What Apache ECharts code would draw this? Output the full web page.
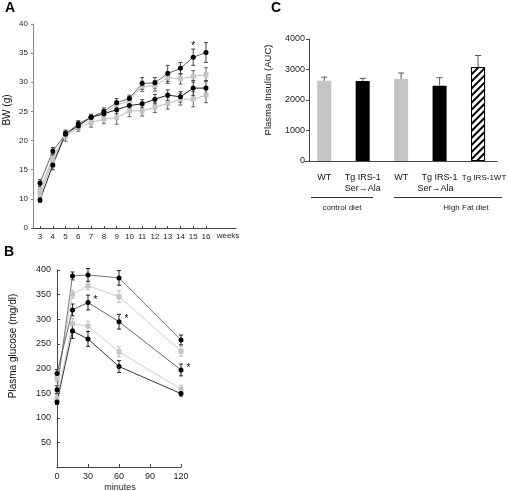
<!DOCTYPE html>
<html><head><meta charset="utf-8">
<script src="https://cdn.jsdelivr.net/npm/echarts@6/dist/echarts.min.js"></script>
<style>html,body{margin:0;padding:0;background:#fff}#c{width:509px;height:491px}</style>
</head><body><div id="c"></div>
<script>
// Panel A: body weight
const weeks = [3,4,5,6,7,8,9,10,11,12,13,14,15,16];
const bwTickWeeks = [3,4,5,6,7,8,9,10,11,12,13,14,15,16];
const bwBlackHigh = [12.7,18.2,21.1,22.9,24.0,25.0,26.5,27.2,29.8,29.9,31.5,32.4,34.3,35.1];
const bwBlackHighErr = [0.6,0.6,0.5,0.5,0.4,0.6,0.7,0.6,1.0,0.9,1.4,1.0,1.4,1.7];
const bwGrayHigh = [11.5,17.0,21.0,22.7,24.0,24.6,26.1,26.8,29.3,29.4,30.8,30.6,31.0,31.3];
const bwGrayHighErr = [0.8,0.8,0.6,0.5,0.5,0.7,0.7,0.7,0.9,0.9,1.0,0.9,1.0,1.2];
const bwBlackLow = [9.8,15.8,21.2,22.5,24.0,24.6,25.3,26.0,26.3,27.1,27.8,27.5,29.0,29.0];
const bwBlackLowErr = [0.4,0.8,0.6,0.6,0.5,0.6,0.7,0.6,0.7,0.8,0.9,0.9,1.3,1.3];
const bwGrayLow = [10.7,16.5,20.7,22.3,23.1,23.7,23.9,25.1,25.1,25.7,26.4,27.1,27.1,27.8];
const bwGrayLowErr = [0.9,1.0,0.8,0.7,0.8,0.8,1.1,1.0,0.9,0.9,1.0,1.0,1.3,1.3];
const bwSignifWeek = 15;

// Panel B: glucose tolerance
const minutes = [0,15,30,60,120];
const gluBlackTop = [157,388,390,384,258];
const gluBlackTopErr = [8,8,13,15,10];
const gluGrayTop = [180,351,368,346,235];
const gluGrayTopErr = [8,8,8,12,10];
const gluBlackMid = [190,319,334,295,197];
const gluBlackMidErr = [8,12,15,15,12];
const gluGrayLow = [139,291,286,234,158];
const gluGrayLowErr = [8,10,10,10,8];
const gluBlackLow = [132,276,260,204,149];
const gluBlackLowErr = [5,15,15,12,5];
const gluSignifMinutes = [30,60,120];

// Panel C: insulin AUC
const insulinGroups = ['WT','Tg IRS-1\nSer\u2192Ala','WT','Tg IRS-1\nSer\u2192Ala','Tg IRS-1WT'];
const insulinMean = [2630,2620,2690,2470,3080];
const insulinErr = [120,90,195,260,380];
const insulinStyle = ['gray','black','gray','black','hatch'];
const dietGroups = ['control diet','High Fat diet'];

const FONT = 'Liberation Sans, Arial, sans-serif';

function errSeries(xi, xs, ys, es, color, capW, upOnly) {
  return {
    type:'custom', xAxisIndex:xi, yAxisIndex:xi, silent:true, z:3,
    encode:{x:0, y:[1,2]},
    data: xs.map((x,i)=>[x, ys[i]-(upOnly?0:es[i]), ys[i]+es[i]]),
    renderItem:(params, api)=>{
      const lo = api.coord([api.value(0), api.value(1)]);
      const hi = api.coord([api.value(0), api.value(2)]);
      const w = capW/2;
      const st = {stroke:color, lineWidth:1};
      const ch = [
        {type:'line', shape:{x1:lo[0],y1:lo[1],x2:hi[0],y2:hi[1]}, style:st},
        {type:'line', shape:{x1:hi[0]-w,y1:hi[1],x2:hi[0]+w,y2:hi[1]}, style:st}
      ];
      if (!upOnly) ch.push({type:'line', shape:{x1:lo[0]-w,y1:lo[1],x2:lo[0]+w,y2:lo[1]}, style:st});
      return {type:'group', children:ch};
    }
  };
}

function lineSeries(xi, xs, ys, symbol, mColor, lColor, signif, sigPos) {
  return {
    type:'line', xAxisIndex:xi, yAxisIndex:xi, z:4,
    symbol: symbol, symbolSize: 5,
    itemStyle:{color:mColor},
    lineStyle:{color:lColor, width:1},
    data: xs.map((x,i)=>{
      const d = {value:[x, ys[i]]};
      if (signif && signif.indexOf(x)>=0) {
        d.label = {show:true, formatter:'*', fontSize:10, fontFamily:FONT, color:'#000',
          position: sigPos.position, distance: sigPos.distance, offset: sigPos.offset};
      }
      return d;
    }),
    animation:false
  };
}

const gray = '#c4c4c4';
const axisCol = '#444';
const labelStyle = {fontSize:8, color:'#222', fontFamily:FONT};

const option = {
  animation:false,
  backgroundColor:'#fff',
  grid:[
    {left:33, top:24, width:203, height:204},
    {left:57, top:270, width:124, height:197},
    {left:305, top:39, width:195, height:122}
  ],
  xAxis:[
    {gridIndex:0, type:'value', min:2.45, max:18.35,
      axisLine:{lineStyle:{color:axisCol}}, splitLine:{show:false},
      axisTick:{inside:true, length:2, lineStyle:{color:axisCol}, customValues:bwTickWeeks},
      axisLabel:Object.assign({customValues:bwTickWeeks, margin:5}, labelStyle)},
    {gridIndex:1, type:'value', min:0, max:120, interval:30,
      axisLine:{lineStyle:{color:axisCol}}, splitLine:{show:false},
      axisTick:{inside:true, length:3, lineStyle:{color:axisCol}},
      axisLabel:Object.assign({margin:5}, labelStyle, {fontSize:9})},
    {gridIndex:2, type:'category', data:insulinGroups,
      axisLine:{lineStyle:{color:axisCol}}, axisTick:{show:false},
      axisLabel:{fontSize:9, color:'#111', fontFamily:FONT, margin:11, lineHeight:11, interval:0,
        formatter:(v, idx)=>{
          if (idx===3) { const p = v.split('\n'); return '{t|'+p[0]+'}\n{s|'+p[1]+'}'; }
          if (idx===4) return '{w|'+v+'}';
          return v;
        },
        rich:{
          t:{fontSize:9, fontFamily:FONT, color:'#111', lineHeight:11},
          s:{fontSize:9, fontFamily:FONT, color:'#111', lineHeight:11, padding:[0,8,0,0]},
          w:{fontSize:8, fontFamily:FONT, color:'#111', lineHeight:11, padding:[0,0,0,12]}
        }}}
  ],
  yAxis:[
    {gridIndex:0, type:'value', min:5, max:40, interval:5,
      axisLine:{show:true, lineStyle:{color:'#888'}}, splitLine:{show:false},
      axisTick:{show:true, length:2, lineStyle:{color:'#888'}},
      axisLabel:Object.assign({margin:5, formatter:v=> v===5?'0':String(v)}, labelStyle)},
    {gridIndex:1, type:'value', min:0, max:400, interval:50,
      axisLine:{show:true, lineStyle:{color:axisCol}}, splitLine:{show:false},
      axisTick:{show:true, inside:true, length:3, lineStyle:{color:axisCol}},
      axisLabel:Object.assign({margin:6, formatter:v=> v===0?'':String(v)}, labelStyle, {fontSize:9})},
    {gridIndex:2, type:'value', min:0, max:4000, interval:1000, offset:-4,
      axisLine:{show:true, lineStyle:{color:axisCol}}, splitLine:{show:false},
      axisTick:{show:true, length:3, lineStyle:{color:axisCol}},
      axisLabel:Object.assign({margin:4, formatter:v=>String(v)}, labelStyle, {fontSize:9})}
  ],
  series:[
    errSeries(0, weeks, bwGrayLow, bwGrayLowErr, '#666', 4, false),
    errSeries(0, weeks, bwGrayHigh, bwGrayHighErr, '#666', 4, false),
    errSeries(0, weeks, bwBlackLow, bwBlackLowErr, '#444', 4, false),
    errSeries(0, weeks, bwBlackHigh, bwBlackHighErr, '#444', 4, false),
    lineSeries(0, weeks, bwGrayLow, 'rect', gray, '#bbb'),
    lineSeries(0, weeks, bwGrayHigh, 'rect', gray, '#bbb'),
    lineSeries(0, weeks, bwBlackLow, 'circle', '#000', '#222'),
    lineSeries(0, weeks, bwBlackHigh, 'circle', '#000', '#666', [bwSignifWeek], {position:'top', distance:3, offset:[0,0]}),

    errSeries(1, minutes, gluGrayTop, gluGrayTopErr, '#bbb', 4, false),
    errSeries(1, minutes, gluGrayLow, gluGrayLowErr, '#bbb', 4, false),
    errSeries(1, minutes, gluBlackTop, gluBlackTopErr, '#222', 4, false),
    errSeries(1, minutes, gluBlackMid, gluBlackMidErr, '#222', 4, false),
    errSeries(1, minutes, gluBlackLow, gluBlackLowErr, '#222', 4, false),
    lineSeries(1, minutes, gluGrayTop, 'rect', gray, '#ccc'),
    lineSeries(1, minutes, gluGrayLow, 'rect', gray, '#ccc'),
    lineSeries(1, minutes, gluBlackTop, 'circle', '#000', '#777'),
    lineSeries(1, minutes, gluBlackMid, 'circle', '#000', '#666', gluSignifMinutes, {position:'right', distance:3, offset:[0,-2]}),
    lineSeries(1, minutes, gluBlackLow, 'circle', '#000', '#333'),

    {type:'bar', xAxisIndex:2, yAxisIndex:2, barWidth:14, z:2,
      data: insulinMean.map((v,i)=>{
        const s = insulinStyle[i];
        if (s==='gray') return {value:v, itemStyle:{color:gray}};
        if (s==='black') return {value:v, itemStyle:{color:'#000'}};
        return {value:v, itemStyle:{color:'#fff', borderColor:'#000', borderWidth:1,
          decal:{symbol:'rect', color:'#000', backgroundColor:'#fff', dashArrayX:[1,0], dashArrayY:[2,3], rotation:-Math.PI/4, symbolSize:1}}};
      })},
    errSeries(2, insulinMean.map((v,i)=>i), insulinMean, insulinErr, '#555', 6, true)
  ],
  graphic:[
    {type:'text', x:5, y:1, style:{text:'A', font:'bold 14px '+FONT, fill:'#000'}},
    {type:'text', x:4, y:245, style:{text:'B', font:'bold 14px '+FONT, fill:'#000'}},
    {type:'text', x:271, y:1, style:{text:'C', font:'bold 14px '+FONT, fill:'#000'}},
    {type:'text', x:7, y:110, rotation:Math.PI/2, style:{text:'BW (g)', font:'10px '+FONT, fill:'#111', align:'center', verticalAlign:'middle'}},
    {type:'text', x:13, y:346, rotation:Math.PI/2, style:{text:'Plasma glucose (mg/dl)', font:'10px '+FONT, fill:'#111', align:'center', verticalAlign:'middle'}},
    {type:'text', x:268, y:90, rotation:Math.PI/2, style:{text:'Plasma Insulin (AUC)', font:'9.5px '+FONT, fill:'#111', align:'center', verticalAlign:'middle'}},
    {type:'text', x:228, y:236, style:{text:'weeks', font:'8px '+FONT, fill:'#222', align:'center', verticalAlign:'middle'}},
    {type:'text', x:120, y:488, style:{text:'minutes', font:'9px '+FONT, fill:'#222', align:'center', verticalAlign:'middle'}},
    {type:'line', shape:{x1:311, y1:197.5, x2:373, y2:197.5}, style:{stroke:'#333', lineWidth:1}},
    {type:'line', shape:{x1:394, y1:197.5, x2:502, y2:197.5}, style:{stroke:'#333', lineWidth:1}},
    {type:'text', x:342, y:208, style:{text:dietGroups[0], font:'8px '+FONT, fill:'#222', align:'center', verticalAlign:'middle'}},
    {type:'text', x:466, y:208, style:{text:dietGroups[1], font:'8px '+FONT, fill:'#222', align:'center', verticalAlign:'middle'}}
  ]
};
const chart = echarts.init(document.getElementById('c'), null, {renderer:'canvas'});
chart.setOption(option);
</script>
</body></html>
